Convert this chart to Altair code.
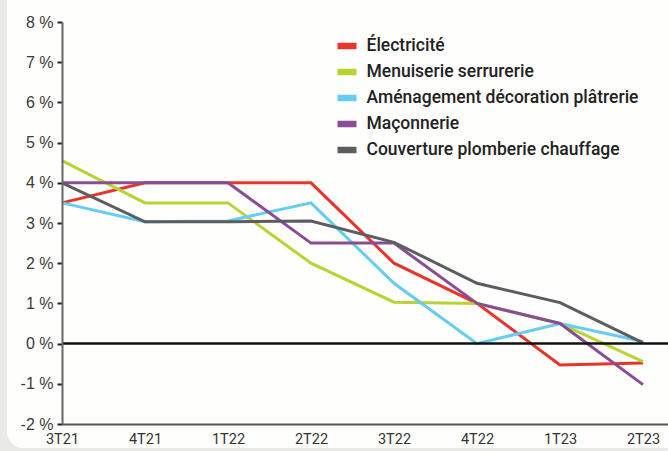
import altair as alt
import pandas as pd

quarters = ["3T21", "4T21", "1T22", "2T22", "3T22", "4T22", "1T23", "2T23"]

electricite = [3.5, 4.0, 4.0, 4.0, 2.0, 1.0, -0.53, -0.48]
menuiserie = [4.55, 3.5, 3.5, 2.0, 1.03, 1.0, 0.5, -0.45]
amenagement = [3.5, 3.03, 3.05, 3.5, 1.5, 0.0, 0.5, 0.05]
maconnerie = [4.0, 4.0, 4.0, 2.5, 2.5, 1.0, 0.5, -1.02]
couverture = [4.0, 3.03, 3.03, 3.05, 2.52, 1.5, 1.02, 0.02]

series_names = [
    "Électricité",
    "Menuiserie serrurerie",
    "Aménagement décoration plâtrerie",
    "Maçonnerie",
    "Couverture plomberie chauffage",
]
series_values = [electricite, menuiserie, amenagement, maconnerie, couverture]
series_colors = ["#e8352c", "#b9d432", "#66ccf2", "#8a4c94", "#5b5d60"]

rows = []
for name, vals in zip(series_names, series_values):
    for i, (q, v) in enumerate(zip(quarters, vals)):
        rows.append({"serie": name, "idx": i, "trimestre": q, "valeur": v})
df = pd.DataFrame(rows)

W, H = 606, 402
FONT_NARROW = "Roboto"
FONT = "Liberation Sans"

label_array = "[" + ",".join("'" + q + "'" for q in quarters) + "]"

# rounded white panel behind the plot
panel = alt.Chart(alt.Data(values=[{}])).mark_rect(
    color="#fefefc", cornerRadius=16
).encode(
    x=alt.value(-55), x2=alt.value(W + 20),
    y=alt.value(-40), y2=alt.value(H + 24),
)

x_enc = alt.X(
    "idx:Q",
    scale=alt.Scale(domain=[0, 7 * W / 581], nice=False, zero=False),
    axis=alt.Axis(
        values=list(range(len(quarters))),
        labelExpr=label_array + "[datum.value]",
        title=None, grid=False, ticks=False, zindex=1,
        domainColor="#555555", domainWidth=2,
        labelFont=FONT_NARROW, labelFontSize=14.5, labelColor="#333333",
        labelPadding=8, labelFlush=False,
    ),
)
y_enc = alt.Y(
    "valeur:Q",
    scale=alt.Scale(domain=[-2, 8], nice=False),
    axis=alt.Axis(
        values=list(range(-2, 9)),
        labelExpr="datum.value + ' %'",
        title=None, grid=False, zindex=1,
        domainColor="#666666", domainWidth=2,
        tickColor="#222222", tickWidth=2, tickSize=5,
        labelFont=FONT, labelFontSize=16, labelColor="#3a3a3a",
        labelPadding=4,
    ),
)

lines = alt.Chart(df).mark_line(strokeWidth=3).encode(
    x=x_enc,
    y=y_enc,
    color=alt.Color(
        "serie:N",
        scale=alt.Scale(domain=series_names, range=series_colors),
        legend=alt.Legend(
            title=None, orient="none", legendX=272, legendY=11,
            symbolType="stroke", symbolSize=361, symbolStrokeWidth=6.5,
            labelFont=FONT_NARROW, labelFontSize=17.5, labelFontWeight=500,
            labelColor="#222222",
            labelOffset=6.5, rowPadding=0, labelLimit=500,
        ),
    ),
    order="idx:Q",
)

zero_line = alt.Chart(alt.Data(values=[{"z": 0}])).mark_rule(
    color="#111111", strokeWidth=2.5
).encode(y="z:Q")

chart = alt.layer(panel, lines, zero_line).properties(
    width=W, height=H,
    background="#e9e9e5",
    padding={"left": 62, "top": 22, "right": 0, "bottom": 27},
    autosize=alt.AutoSizeParams(type="none"),
).configure_view(stroke=None)

chart.save("out.html", embed_options={"renderer": "svg", "actions": False})
